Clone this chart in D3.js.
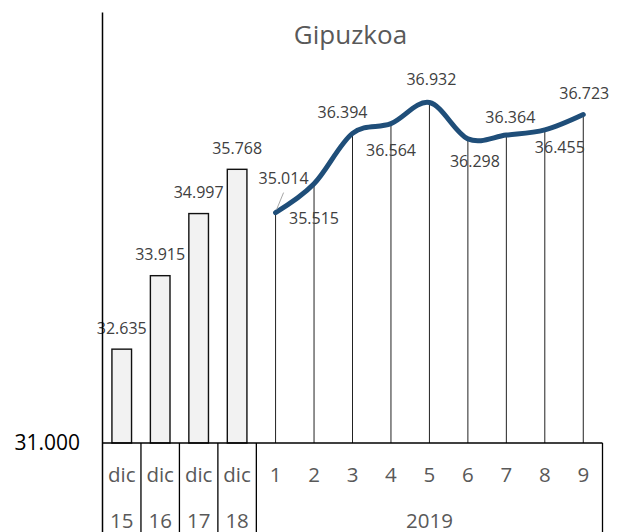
<!DOCTYPE html>
<html lang="es">
<head>
  <meta charset="UTF-8" />
  <title>Gipuzkoa</title>
  <script src="https://d3js.org/d3.v7.min.js"></script>
  <style>
    html, body { margin: 0; background: #fff; }
    svg { display: block; font-family: "Open Sans", sans-serif; }
    .lbl { font-size: 16px; fill: #404040; }
    .cat { font-size: 20.5px; fill: #595959; }
  </style>
</head>
<body>
  <svg id="chart" width="619" height="532"></svg>
  <script>
    // ----- data -----
    const monthLabels = ['dic', 'dic', 'dic', 'dic', '1', '2', '3', '4', '5', '6', '7', '8', '9'];
    const groupLabels = ['15', '16', '17', '18', '2019'];
    const groupSizes  = [1, 1, 1, 1, 9];
    const barValues   = [32.635, 33.915, 34.997, 35.768];            // dic 15..18
    const lineValues  = [35.014, 35.515, 36.394, 36.564, 36.932, 36.298, 36.364, 36.455, 36.723]; // 2019, months 1..9
    const yMin = 31, yMax = 38.5;
    const yTickLabel = '31.000';

    // label nudges (px) for the line's data labels, relative to each point
    const lineLabelNudge = [[8, -34], [0, 35], [-10, -21], [0, 27], [2, -23], [7, 23], [4, -18], [15, 18], [1, -21]];

    const svg = d3.select('#chart');
    const plotL = 102.5, plotR = 602.5, base = 443, plotT = 12.5, plotB = 532;

    const x = d3.scaleBand().domain(d3.range(monthLabels.length)).range([plotL, plotR]).padding(0);
    const y = d3.scaleLinear().domain([yMin, yMax]).range([base, plotT]);
    const cx = i => x(i) + x.bandwidth() / 2;

    // title
    svg.append('text')
      .attr('x', (plotL + plotR) / 2 - 2).attr('y', 43.5)
      .attr('text-anchor', 'middle')
      .attr('font-size', 26).attr('fill', '#595959')
      .text('Gipuzkoa');

    // y axis label (only the minimum shows)
    svg.append('text')
      .attr('x', 80).attr('y', y(yMin)).attr('dy', '0.35em')
      .attr('text-anchor', 'end').attr('font-size', 21).attr('fill', '#000')
      .text(yTickLabel);

    // bars
    const nBars = barValues.length;
    const barW = x.bandwidth() * 0.51;
    svg.append('g').selectAll('rect')
      .data(barValues)
      .enter().append('rect')
        .attr('x', (d, i) => cx(i) - barW / 2)
        .attr('y', d => y(d))
        .attr('width', barW)
        .attr('height', d => base - y(d))
        .attr('fill', '#f2f2f2')
        .attr('stroke', '#111')
        .attr('stroke-width', 1.4);

    svg.append('g').selectAll('text')
      .data(barValues)
      .enter().append('text')
        .attr('class', 'lbl')
        .attr('x', (d, i) => cx(i))
        .attr('y', d => y(d) - 21)
        .attr('dy', '0.35em')
        .attr('text-anchor', 'middle')
        .text(d => d.toFixed(3));

    // line points
    const pts = lineValues.map((v, i) => ({ v, x: cx(nBars + i), y: y(v) }));

    // drop lines
    svg.append('g').selectAll('line')
      .data(pts)
      .enter().append('line')
        .attr('x1', d => d.x).attr('x2', d => d.x)
        .attr('y1', d => d.y).attr('y2', base)
        .attr('stroke', '#222').attr('stroke-width', 1);

    // smoothed line
    const lineGen = d3.line().x(d => d.x).y(d => d.y).curve(d3.curveCardinal.tension(0));
    svg.append('path')
      .datum(pts)
      .attr('d', lineGen)
      .attr('fill', 'none')
      .attr('stroke', '#1f4e79')
      .attr('stroke-width', 5)
      .attr('stroke-linecap', 'round');

    // leader line for the first label
    svg.append('line')
      .attr('x1', pts[0].x + 1).attr('y1', pts[0].y - 3)
      .attr('x2', pts[0].x + 8).attr('y2', pts[0].y - 20)
      .attr('stroke', '#a6a6a6').attr('stroke-width', 1);

    svg.append('g').selectAll('text')
      .data(pts)
      .enter().append('text')
        .attr('class', 'lbl')
        .attr('x', (d, i) => d.x + lineLabelNudge[i][0])
        .attr('y', (d, i) => d.y + lineLabelNudge[i][1])
        .attr('dy', '0.35em')
        .attr('text-anchor', 'middle')
        .text(d => d.v.toFixed(3));

    // axes
    svg.append('line')
      .attr('x1', plotL).attr('x2', plotL).attr('y1', plotT).attr('y2', plotB)
      .attr('stroke', '#000').attr('stroke-width', 1.5);
    svg.append('line')
      .attr('x1', plotL).attr('x2', plotR).attr('y1', base).attr('y2', base)
      .attr('stroke', '#000').attr('stroke-width', 1.5);

    // month labels
    svg.append('g').selectAll('text')
      .data(monthLabels)
      .enter().append('text')
        .attr('class', 'cat')
        .attr('x', (d, i) => cx(i))
        .attr('y', 481.5)
        .attr('text-anchor', 'middle')
        .text(d => d);

    // group labels + separators
    let start = 0;
    const groups = groupLabels.map((g, k) => {
      const s = start;
      start += groupSizes[k];
      return { label: g, s, e: start };
    });
    const edgeX = i => (i >= monthLabels.length ? plotR : x(i));

    svg.append('g').selectAll('text')
      .data(groups)
      .enter().append('text')
        .attr('class', 'cat')
        .attr('x', d => (edgeX(d.s) + edgeX(d.e)) / 2)
        .attr('y', 527.5)
        .attr('text-anchor', 'middle')
        .text(d => d.label);

    svg.append('g').selectAll('line')
      .data(groups.map(d => d.e))
      .enter().append('line')
        .attr('x1', d => edgeX(d)).attr('x2', d => edgeX(d))
        .attr('y1', base).attr('y2', plotB)
        .attr('stroke', '#000').attr('stroke-width', 1.3);
  </script>
</body>
</html>
